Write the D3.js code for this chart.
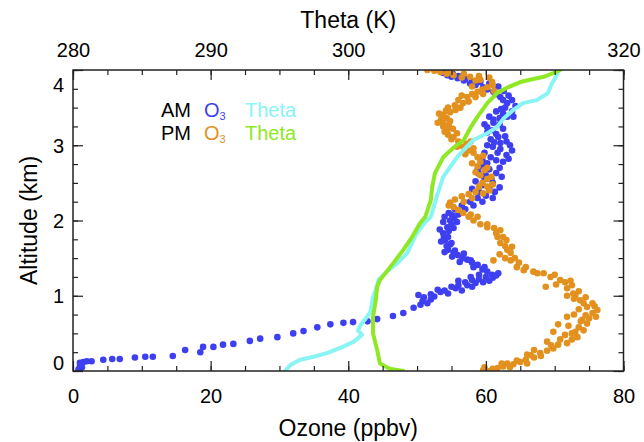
<!DOCTYPE html>
<html><head><meta charset="utf-8">
<script src="https://cdn.jsdelivr.net/npm/d3@7"></script>
<style>body{margin:0;background:#fff}svg{display:block}text{font-family:"Liberation Sans",Arial,Helvetica,sans-serif}</style>
</head><body>
<svg id="c" width="644" height="442"></svg>
<script>
// ---- data ----
const ozoneTicks = [0, 20, 40, 60, 80];
const thetaTicks = [280, 290, 300, 310, 320];
const altTicks = [0, 1, 2, 3, 4];

// AM ozone [ppbv, km]
const amO3 = [
 [1,0.0],[1,0.03],[0.8,0.02],[1.3,0.05],[1,0.06],[1.2,0.09],[1.5,0.12],[2,0.13],[1,0.11],
 [2.7,0.13],[4.4,0.15],[5.7,0.16],[6.8,0.16],[9.0,0.18],[10.5,0.19],[11.6,0.19],[14.5,0.2],[16.3,0.28],
 [18.5,0.25],[18.9,0.32],[20.4,0.32],[21.8,0.35],[23.3,0.36],[25.7,0.40],[27.2,0.43],[29.7,0.45],
 [32.0,0.50],[33.5,0.53],[35.5,0.58],[37.4,0.62],[39.3,0.64],[40.7,0.65],[42.8,0.66],[44.2,0.69],
 [46.5,0.73],[48.0,0.77],[49.5,0.84],[50.5,0.88],[51.5,0.9],[50.8,0.93],[52,0.95],[51,0.98],[50.2,1.01],[52.5,0.99],
 [53.4,1.05],[54.5,1.03],[55.6,1.10],[56.5,1.07],[57.3,1.14],[58.5,1.17],[58,1.12],[59.6,1.18],[60.5,1.2],
 [61,1.24],[60.9,1.28],[61.5,1.27],[60.2,1.32],[59.5,1.35],
 [52,1.02],[53,1.08],[54,1.07],[55,1.12],[56,1.14],[57,1.18],[58,1.21],[59,1.22],[60,1.25],[61.8,1.3],
 [59,1.28],[57.8,1.25],[56,1.2],
 [58.8,1.41],[58,1.44],[57.3,1.48],[56.6,1.5],[55.9,1.54],[55.3,1.57],[54.5,1.61],[55.5,1.6],[54.3,1.66],
 [54.1,1.74],[55,1.7],[53.9,1.78],[53.8,1.83],[54.6,1.86],[54.4,1.91],[55,1.95],[54.8,2.0],[55.4,2.03],
 [55.1,2.07],[54.6,2.1],
 [59.8,1.38],[58.2,1.38],[57.8,1.47],[56.2,1.45],[56.8,1.56],[55.1,1.52],[54,1.58],[54.8,1.68],[53.5,1.72],
 [54.5,1.78],[53.3,1.88],[55.3,1.9],[53.8,1.98],[55.8,1.98],[54,2.05],[56,2.08],
 [55.5,2.15],[56.5,2.2],[57.7,2.25],[58.8,2.3],[60,2.33],[59,2.38],[60.5,2.42],[59.5,2.47],[58.5,2.52],
 [59.8,2.55],[61,2.5],[60,2.6],[61.5,2.63],[60.5,2.68],[59.5,2.72],
 [57,2.15],[58.2,2.2],[59.5,2.25],[61,2.3],[61.3,2.38],[62,2.44],[58,2.42],[60.8,2.55],[62.3,2.58],
 [59,2.62],[62,2.7],[58.8,2.67],
 [60.2,2.76],[61.5,2.8],[62.5,2.78],[60.7,2.84],[61.7,2.9],[63,2.87],[62.1,2.95],[61,2.98],[62.1,3.03],
 [63.5,3.0],[60.7,3.08],[61.8,3.11],
 [59.5,2.8],[63.3,2.82],[59.8,2.9],[63.8,2.93],[60.2,3.0],[63,3.05],[61.2,3.04],[62.8,3.12],
 [60.2,3.17],[61,3.2],[60.2,3.24],[61.1,3.3],[62,3.28],[61.1,3.34],[63.1,3.38],[62.5,3.42],[63.8,3.45],[62.8,3.5],
 [61.5,3.15],[59.8,3.28],[62.5,3.22],[60.5,3.38],[62,3.36],[64,3.38],[61.5,3.45],[64.3,3.52],[62.2,3.48],
 [63.1,3.56],[62.5,3.6],[62.1,3.64],[61.5,3.68],[61.1,3.71],[60.2,3.74],[59.6,3.77],[58.5,3.8],[57.7,3.82],
 [56.8,3.86],[55.9,3.89],[55,3.91],[54.4,3.93],[53.8,3.96],[53.4,4.0],[56,3.92],[58,3.84],
 [63.8,3.6],[63.3,3.66],[61.8,3.78],[60.5,3.82],[59.2,3.84],[57,3.88],[55.2,3.95],[54.5,3.99],[52.8,4.02],[62.6,3.72]
];

// PM ozone [ppbv, km]
const pmO3 = [
 [59.6,0.01],[60.5,0.0],[61.7,0.04],[62.5,0.06],[63.1,0.1],[64,0.09],[65,0.12],[65.8,0.15],[66.5,0.21],
 [67,0.18],[66,0.1],[67,0.28],[67.9,0.24],[68.9,0.27],[69.8,0.3],[68.9,0.39],[70.5,0.35],[71.8,0.37],
 [72.5,0.42],[73.3,0.45],[72.5,0.5],[69.8,0.52],[74.2,0.54],[73.5,0.58],[70.5,0.62],[74.7,0.63],[75,0.7],
 [74,0.68],[71.8,0.72],[75.5,0.77],[76.2,0.81],[74.7,0.85],[75.5,0.9],[73.7,0.94],[74.5,0.98],[72.7,1.03],
 [73.5,1.06],[71.8,1.10],[72.5,1.14],[68.7,1.12],[70.8,1.21],[71.5,1.18],[69.4,1.25],[68.4,1.3],[66.9,1.32],
 [65.5,1.34],[64.5,1.38],[63.6,1.47],[61.1,1.47],[64.2,1.5],[62,1.55],[63.1,1.61],[63.6,1.57],[62.1,1.70],
 [62.8,1.66],[62.5,1.78],[62.1,1.87],[61.2,1.9],[60.2,1.91],[59.2,1.95],[58.2,2.0],[57.5,2.05],[56.7,2.1],
 [55.3,2.18],[54.8,2.24],
 [59.8,0.05],[61,0.03],[62.3,0.1],[64.5,0.14],[63.5,0.05],[66,0.22],[68,0.2],[69.5,0.34],[70.8,0.42],
 [71.5,0.48],[73,0.52],[72,0.6],[73.8,0.66],[72.8,0.75],[74.5,0.74],[73.5,0.82],[76,0.72],[75.8,0.86],
 [74.2,0.9],[72.8,0.96],[73,1.0],[71.8,1.0],[70.2,1.15],[72.3,1.2],[70,1.28],[67.5,1.3],[65.8,1.38],
 [64.8,1.44],[62.8,1.5],[63.8,1.65],[61.7,1.78],[63,1.74],[61.5,1.83],[60.2,1.95],[58.8,2.05],[57.8,2.08],
 [56,2.14],[54.6,2.2],
 [55.5,2.28],[56.5,2.32],[58,2.3],[58.5,2.38],[59.6,2.36],[60.2,2.45],[59.5,2.5],[60.5,2.4],
 [60.2,2.55],[59.2,2.6],[59.8,2.67],[58.8,2.72],[59.2,2.78],[58.8,2.84],[58.2,2.9],[57.5,2.93],[58.2,2.96],
 [56.7,2.98],[57.2,3.02],[56,3.05],
 [56.8,2.25],[57.5,2.35],[59,2.45],[61,2.48],[60.8,2.58],[58.5,2.64],[60.2,2.7],[58,2.76],[59.6,2.86],
 [57,2.88],[55.8,2.98],[57.8,3.05],[55,3.08],
 [55.3,3.11],[54.5,3.14],[55.8,3.16],[54.4,3.2],[53.8,3.25],[54.6,3.27],[53.8,3.29],[53.5,3.34],[54.3,3.36],
 [53.8,3.4],[54.8,3.44],[55.6,3.47],[54.5,3.5],
 [54,3.18],[55.2,3.22],[53,3.3],[54.8,3.32],[53.2,3.42],[54.2,3.46],[55.5,3.53],[56.3,3.5],
 [56.7,3.56],[56,3.6],[57.3,3.64],[58,3.68],[58.8,3.71],[59.5,3.74],[60.2,3.77],[61,3.8],[60.9,3.84],
 [59.2,3.87],[58.5,3.86],[57.7,3.91],[56.5,3.9],[55.3,3.93],[54.3,3.95],[53.4,3.97],[52.5,3.99],[51.5,4.0],
 [57.5,3.58],[56.5,3.66],[58.5,3.64],[59.6,3.68],[61.2,3.72],[60.5,3.9],[59,3.92],[56.8,3.95],[54.8,3.98],[58,3.78]
];

// AM theta [K, km]
const amTheta = [
 [295.4,0.0],[295.8,0.08],[296.5,0.15],[297.5,0.19],[298.5,0.24],[299.6,0.32],[300.4,0.39],[301.0,0.48],
 [300.7,0.54],[300.9,0.61],[301.2,0.68],[301.6,0.78],[301.8,0.98],[302.0,1.08],[302.2,1.21],[302.8,1.32],
 [303.6,1.44],[304.3,1.57],[304.9,1.81],[305.6,1.98],[306.0,2.05],[306.5,2.36],[306.9,2.58],[307.4,2.71],
 [307.9,2.84],[308.4,2.94],[309.1,3.07],[310.1,3.16],[310.8,3.24],[311.3,3.36],[312.0,3.47],[312.7,3.56],
 [313.7,3.6],[314.5,3.69],[314.8,3.82],[315.1,3.91],[315.3,4.0]
];

// PM theta [K, km]
const pmTheta = [
 [304.0,0.0],[303.0,0.03],[302.3,0.1],[302.1,0.28],[301.8,0.5],[301.8,0.72],[302.0,0.94],[302.1,1.12],
 [302.3,1.21],[302.7,1.3],[303.3,1.44],[304.0,1.61],[304.7,1.8],[305.2,1.96],[305.6,2.05],[306.0,2.27],
 [306.1,2.45],[306.3,2.63],[306.9,2.84],[307.6,2.96],[308.4,3.07],[308.9,3.24],[309.4,3.38],[310.1,3.56],
 [310.8,3.69],[311.6,3.77],[312.5,3.84],[313.2,3.87],[314.2,3.91],[314.9,3.96],[315.4,4.0]
];

const legendRows = [
 {label:"AM", o3:"#3f3ff2", theta:"#88f4f4"},
 {label:"PM", o3:"#e2911e", theta:"#8ee824"}
];

// ---- layout ----
const L = 73, R = 623.5, T = 70, B = 371;
const svg = d3.select("#c");
const x = d3.scaleLinear().domain([0, 80]).range([L, R]);
const xt = d3.scaleLinear().domain([280, 320]).range([L, R]);
const y = d3.scaleLinear().domain([0, 4]).range([B, T]);

svg.append("defs").append("clipPath").attr("id","clip")
  .append("rect").attr("x",L).attr("y",T).attr("width",R-L).attr("height",B-T);
const plot = svg.append("g").attr("clip-path","url(#clip)");

// O3 scatter
plot.append("g").selectAll("circle").data(amO3).join("circle")
  .attr("cx", d=>x(d[0])).attr("cy", d=>y(d[1])).attr("r",3.3).attr("fill", legendRows[0].o3);
plot.append("g").selectAll("circle").data(pmO3).join("circle")
  .attr("cx", d=>x(d[0])).attr("cy", d=>y(d[1])).attr("r",3.3).attr("fill", legendRows[1].o3);

// theta profiles
const line = d3.line().x(d=>xt(d[0])).y(d=>y(d[1]));
plot.append("path").datum(amTheta).attr("d",line).attr("fill","none")
  .attr("stroke",legendRows[0].theta).attr("stroke-width",4).attr("stroke-linejoin","round").attr("stroke-linecap","round");
plot.append("path").datum(pmTheta).attr("d",line).attr("fill","none")
  .attr("stroke",legendRows[1].theta).attr("stroke-width",4).attr("stroke-linejoin","round").attr("stroke-linecap","round");

// ---- axes ----
const frameColor = "#222";
function styleAxis(g){
  g.select(".domain").remove();
  g.selectAll(".tick line").attr("stroke",frameColor).attr("stroke-width",1.2);
  g.selectAll("text").attr("fill","#000").attr("font-size",20);
}
const minorX = d3.range(0, 80.01, 5);
const minorT = d3.range(280, 320.01, 2.5);
const minorY = d3.range(0, 4.001, 0.25);

// bottom
svg.append("g").attr("transform",`translate(0,${B})`)
  .call(d3.axisBottom(x).tickValues(minorX).tickSize(-5).tickFormat("")).call(styleAxis);
svg.append("g").attr("transform",`translate(0,${B})`)
  .call(d3.axisBottom(x).tickValues(ozoneTicks).tickSize(-10).tickFormat(d3.format("d")).tickPadding(18))
  .call(styleAxis);
// top
svg.append("g").attr("transform",`translate(0,${T})`)
  .call(d3.axisTop(xt).tickValues(minorT).tickSize(-5).tickFormat("")).call(styleAxis);
svg.append("g").attr("transform",`translate(0,${T})`)
  .call(d3.axisTop(xt).tickValues(thetaTicks).tickSize(-10).tickFormat(d3.format("d")).tickPadding(13))
  .call(styleAxis);
// left
svg.append("g").attr("transform",`translate(${L},0)`)
  .call(d3.axisLeft(y).tickValues(minorY).tickSize(-5).tickFormat("")).call(styleAxis);
const leftAx = svg.append("g").attr("transform",`translate(${L},0)`)
  .call(d3.axisLeft(y).tickValues(altTicks).tickSize(-10).tickFormat(d3.format("d")).tickPadding(9))
  .call(styleAxis);
leftAx.selectAll(".tick text").attr("dy", d => d===4 ? "1.05em" : d===0 ? "-0.1em" : "0.35em");
// right
svg.append("g").attr("transform",`translate(${R},0)`)
  .call(d3.axisRight(y).tickValues(minorY).tickSize(-5).tickFormat("")).call(styleAxis);
svg.append("g").attr("transform",`translate(${R},0)`)
  .call(d3.axisRight(y).tickValues(altTicks).tickSize(-10).tickFormat("")).call(styleAxis);

// frame
svg.append("rect").attr("x",L).attr("y",T).attr("width",R-L).attr("height",B-T)
  .attr("fill","none").attr("stroke",frameColor).attr("stroke-width",1.5);

// titles
svg.append("text").attr("x",(L+R)/2).attr("y",28).attr("text-anchor","middle")
  .attr("font-size",23).text("Theta (K)");
svg.append("text").attr("x",(L+R)/2).attr("y",436).attr("text-anchor","middle")
  .attr("font-size",23).text("Ozone (ppbv)");
svg.append("text").attr("transform",`translate(37,${(T+B)/2}) rotate(-90)`).attr("text-anchor","middle")
  .attr("font-size",23).text("Altitude (km)");

// legend
const lg = svg.append("g");
legendRows.forEach((r,i)=>{
  const by = 117 + i*22.5;
  lg.append("text").attr("x",161).attr("y",by).attr("font-size",20).attr("fill","#000").text(r.label);
  const o = lg.append("text").attr("x",204).attr("y",by).attr("font-size",20).attr("fill",r.o3);
  o.append("tspan").text("O");
  o.append("tspan").attr("font-size",11).attr("dy",3).text("3");
  lg.append("text").attr("x",245).attr("y",by).attr("font-size",20).attr("fill",r.theta).text("Theta");
});
</script>
</body></html>
